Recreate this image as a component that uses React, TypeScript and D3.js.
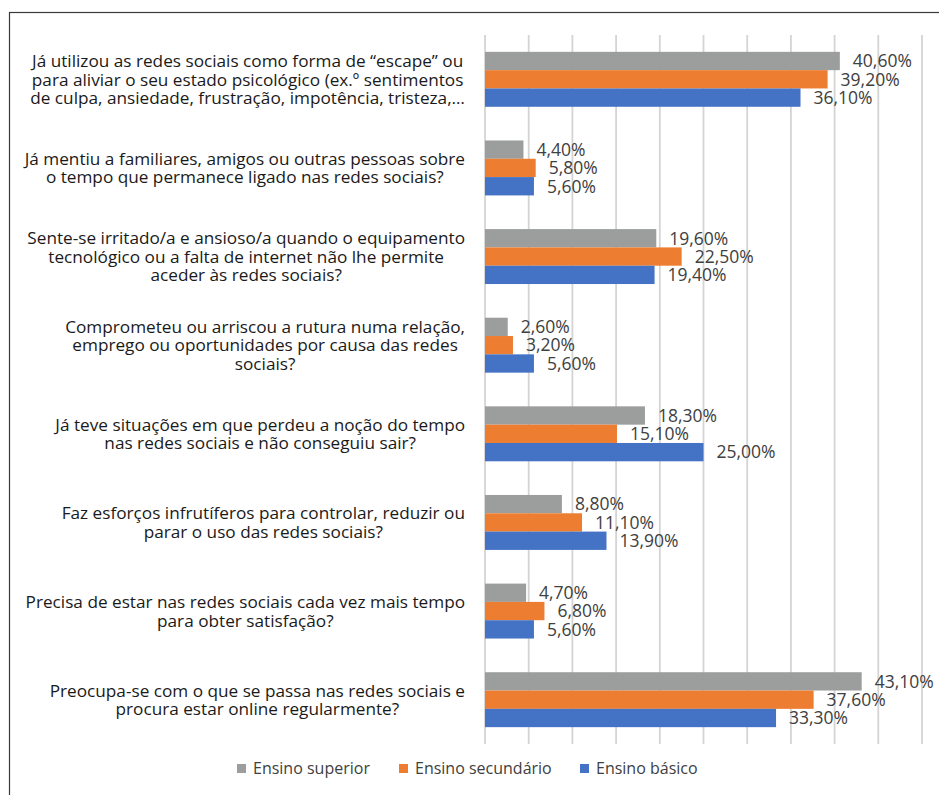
import React, { useRef, useEffect } from 'react';
import * as d3 from 'd3';

// questions, top to bottom (line breaks as in the original)
const categories = [
  ['Já utilizou as redes sociais como forma de “escape” ou', 'para aliviar o seu estado psicológico (ex.º sentimentos', 'de culpa, ansiedade, frustração, impotência, tristeza,…'],
  ['Já mentiu a familiares, amigos ou outras pessoas sobre', 'o tempo que permanece ligado nas redes sociais?'],
  ['Sente-se irritado/a e ansioso/a quando o equipamento', 'tecnológico ou a falta de internet não lhe permite', 'aceder às redes sociais?'],
  ['Comprometeu ou arriscou a rutura numa relação,', 'emprego ou oportunidades por causa das redes', 'sociais?'],
  ['Já teve situações em que perdeu a noção do tempo', 'nas redes sociais e não conseguiu sair?'],
  ['Faz esforços infrutíferos para controlar, reduzir ou', 'parar o uso das redes sociais?'],
  ['Precisa de estar nas redes sociais cada vez mais tempo', 'para obter satisfação?'],
  ['Preocupa-se com o que se passa nas redes sociais e', 'procura estar online regularmente?'],
];

const seriesNames = ['Ensino superior', 'Ensino secundário', 'Ensino básico'];
const superior = [40.6, 4.4, 19.6, 2.6, 18.3, 8.8, 4.7, 43.1];
const secundario = [39.2, 5.8, 22.5, 3.2, 15.1, 11.1, 6.8, 37.6];
const basico = [36.1, 5.6, 19.4, 5.6, 25.0, 13.9, 5.6, 33.3];
const xTicks = [0, 5, 10, 15, 20, 25, 30, 35, 40, 45, 50];

const colors = ['#9c9e9e', '#ed7d31', '#4472c4'];
const font = '"Open Sans", Lato, sans-serif';

const App = () => {
  const svgRef = useRef<SVGSVGElement>(null);

  useEffect(() => {
    const svg = d3.select(svgRef.current);
    svg.selectAll('*').remove();

    const plot = { left: 485, right: 922, top: 35, bottom: 744 };
    const labelRight = 465;

    const x = d3.scaleLinear().domain([0, 50]).range([plot.left, plot.right]);
    const y = d3.scaleBand<number>()
      .domain(d3.range(categories.length))
      .range([plot.top, plot.bottom])
      .paddingInner(0.38)
      .paddingOuter(0.19);
    const inner = d3.scaleBand<number>().domain([0, 1, 2]).range([0, y.bandwidth()]);

    const series = [superior, secundario, basico];

    // frame
    svg.append('rect')
      .attr('x', 9.5).attr('y', 12.5)
      .attr('width', 960).attr('height', 800)
      .attr('fill', 'none').attr('stroke', '#3a3a3a').attr('stroke-width', 1.2);

    // gridlines
    svg.append('g')
      .selectAll('line')
      .data(xTicks)
      .join('line')
      .attr('x1', d => x(d)).attr('x2', d => x(d))
      .attr('y1', plot.top).attr('y2', plot.bottom)
      .attr('stroke', '#d4d4d4').attr('stroke-width', 1.8);

    // bars
    series.forEach((vals, si) => {
      const g = svg.append('g');
      g.selectAll('rect')
        .data(vals)
        .join('rect')
        .attr('x', x(0))
        .attr('y', (d, i) => (y(i) as number) + (inner(si) as number))
        .attr('width', d => x(d) - x(0))
        .attr('height', inner.bandwidth())
        .attr('fill', colors[si]);

      g.selectAll('text')
        .data(vals)
        .join('text')
        .attr('x', d => x(d) + 13)
        .attr('y', (d, i) => (y(i) as number) + (inner(si) as number) + inner.bandwidth() / 2)
        .attr('dy', '0.36em')
        .attr('font-family', font)
        .attr('font-size', 17.5)
        .attr('fill', '#404040')
        .text(d => d.toFixed(2).replace('.', ',') + '%');
    });

    // category labels: lines centred inside a right-aligned block
    const lh = 18.7;
    categories.forEach((lines, i) => {
      const cy = (y(i) as number) + y.bandwidth() / 2;
      const g = svg.append('g');
      const texts = g.selectAll('text')
        .data(lines)
        .join('text')
        .attr('y', (d, j) => cy + (j - (lines.length - 1) / 2) * lh)
        .attr('dy', '0.36em')
        .attr('text-anchor', 'middle')
        .attr('font-family', font)
        .attr('font-size', 17.2)
        .attr('fill', '#1a1a1a')
        .text(d => d);
      let maxW = 0;
      texts.each(function () {
        maxW = Math.max(maxW, (this as SVGTextElement).getComputedTextLength());
      });
      texts.attr('x', labelRight - maxW / 2);
    });

    // legend
    const legendX = [237, 399, 580];
    const legend = svg.append('g');
    seriesNames.forEach((name, i) => {
      legend.append('rect')
        .attr('x', legendX[i]).attr('y', 764)
        .attr('width', 9).attr('height', 9)
        .attr('fill', colors[i]);
      legend.append('text')
        .attr('x', legendX[i] + 16).attr('y', 768.5)
        .attr('dy', '0.36em')
        .attr('font-family', font)
        .attr('font-size', 16)
        .attr('fill', '#404040')
        .text(name);
    });
  }, []);

  return (
    <svg ref={svgRef} width={939} height={795}
      style={{ position: 'absolute', left: 0, top: 0, background: '#fff' }} />
  );
};

export default App;
